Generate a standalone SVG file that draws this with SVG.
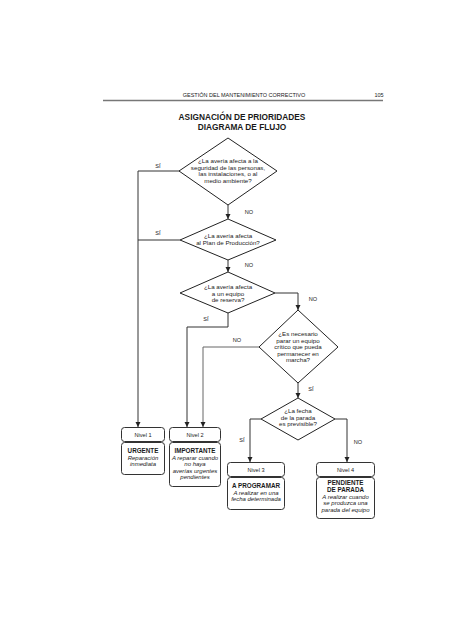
<svg xmlns="http://www.w3.org/2000/svg" width="474" height="632" viewBox="0 0 474 632">
<defs>
<marker id="ah" markerWidth="6" markerHeight="6" refX="5" refY="3" orient="auto" markerUnits="userSpaceOnUse">
<path d="M0,0.5 L5,3 L0,5.5 Z" fill="#222"/>
</marker>
<style>
text{font-family:"Liberation Sans",Arial,sans-serif;fill:#1a1a1a;text-anchor:middle}
.hdr{font-size:5.5px}
.ttl{font-size:8.3px;font-weight:bold}
.q{font-size:6.2px}
.lbl{font-size:5.6px}
.nv{font-size:5.6px}
.b{font-size:6.3px;font-weight:bold}
.i{font-size:6px;font-style:italic}
.shape{fill:#fff;stroke:#222;stroke-width:1}
.box{fill:#fff;stroke:#333;stroke-width:1}
.ln{fill:none;stroke:#333;stroke-width:1}
.ln2{fill:none;stroke:#666;stroke-width:1}
</style>
</defs>
<rect width="474" height="632" fill="#fff"/>
<g id="header">
<text class="hdr" x="244" y="97">GESTIÓN DEL MANTENIMIENTO CORRECTIVO</text>
<text class="hdr" x="379" y="97">105</text>
<line x1="103" y1="100.5" x2="383" y2="100.5" stroke="#777" stroke-width="1.5"/>
</g>
<g id="title">
<text class="ttl" x="242" y="120">ASIGNACIÓN DE PRIORIDADES</text>
<text class="ttl" x="242" y="129.5">DIAGRAMA DE FLUJO</text>
</g>
<g id="connectors">
<path class="ln" d="M228,205 V219" marker-end="url(#ah)"/>
<path class="ln" d="M228,260 V272" marker-end="url(#ah)"/>
<path class="ln" d="M275,293 H298 V310" marker-end="url(#ah)"/>
<path class="ln" d="M298,383 V398" marker-end="url(#ah)"/>
<path class="ln" d="M261,419 H250 V462" marker-end="url(#ah)"/>
<path class="ln" d="M335,419 H347 V462" marker-end="url(#ah)"/>
<path class="ln" d="M180,171 H138 V427" marker-end="url(#ah)"/>
<path class="ln" d="M180,240 H138"/>
<path class="ln" d="M228,313 V327 H187 V427" marker-end="url(#ah)"/>
<path class="ln2" d="M259,347 H203 V427" marker-end="url(#ah)"/>
<text class="lbl" x="158" y="168">SÍ</text>
<text class="lbl" x="158" y="235">SÍ</text>
<text class="lbl" x="249" y="214">NO</text>
<text class="lbl" x="249" y="267">NO</text>
<text class="lbl" x="313" y="301">NO</text>
<text class="lbl" x="206" y="321">SÍ</text>
<text class="lbl" x="237" y="342">NO</text>
<text class="lbl" x="311" y="391">SÍ</text>
<text class="lbl" x="242" y="442">SÍ</text>
<text class="lbl" x="358" y="444">NO</text>
</g>
<g id="d1">
<polygon class="shape" points="228,138 277,171 228,205 179,171"/>
<text class="q" x="228" y="163">¿La avería afecta a la</text>
<text class="q" x="228" y="169.5">seguridad de las personas,</text>
<text class="q" x="228" y="176">las instalaciones, o al</text>
<text class="q" x="228" y="182.5">medio ambiente?</text>
</g>
<g id="d2">
<polygon class="shape" points="228,219 276,240 228,260 180,240"/>
<text class="q" x="228" y="238">¿La avería afecta</text>
<text class="q" x="228" y="245">al Plan de Producción?</text>
</g>
<g id="d3">
<polygon class="shape" points="228,272 275,293 228,313 180,293"/>
<text class="q" x="228" y="289">¿La avería afecta</text>
<text class="q" x="228" y="295.5">a un equipo</text>
<text class="q" x="228" y="302">de reserva?</text>
</g>
<g id="d4">
<polygon class="shape" points="298,310 338,347 298,383 259,347"/>
<text class="q" x="298" y="336">¿Es necesario</text>
<text class="q" x="298" y="342.5">parar un equipo</text>
<text class="q" x="298" y="349">crítico que pueda</text>
<text class="q" x="298" y="355.5">permanecer en</text>
<text class="q" x="298" y="362">marcha?</text>
</g>
<g id="d5">
<polygon class="shape" points="298,398 335,419 298,440 261,419"/>
<text class="q" x="298" y="413">¿La fecha</text>
<text class="q" x="298" y="419.5">de la parada</text>
<text class="q" x="298" y="426">es previsible?</text>
</g>
<g id="nivel1">
<rect class="box" x="121.5" y="427.5" width="43" height="14" rx="3"/>
<rect class="box" x="121.5" y="442.5" width="43" height="32" rx="3"/>
<text class="nv" x="143" y="436.5">Nivel 1</text>
<text class="b" x="143" y="453">URGENTE</text>
<text class="i" x="143" y="459.5">Reparación</text>
<text class="i" x="143" y="466">inmediata</text>
</g>
<g id="nivel2">
<rect class="box" x="169.5" y="427.5" width="51" height="14" rx="3"/>
<rect class="box" x="169.5" y="442.5" width="51" height="44" rx="3"/>
<text class="nv" x="195" y="436.5">Nivel 2</text>
<text class="b" x="195" y="453">IMPORTANTE</text>
<text class="i" x="195" y="459.5">A reparar cuando</text>
<text class="i" x="195" y="466">no haya</text>
<text class="i" x="195" y="472.5">averías urgentes</text>
<text class="i" x="195" y="479">pendientes</text>
</g>
<g id="nivel3">
<rect class="box" x="227.5" y="462.5" width="57" height="14" rx="3"/>
<rect class="box" x="227.5" y="477.5" width="57" height="32" rx="3"/>
<text class="nv" x="256" y="471.5">Nivel 3</text>
<text class="b" x="256" y="488">A PROGRAMAR</text>
<text class="i" x="256" y="494.5">A realizar en una</text>
<text class="i" x="256" y="501">fecha determinada</text>
</g>
<g id="nivel4">
<rect class="box" x="316.5" y="462.5" width="58" height="14" rx="3"/>
<rect class="box" x="316.5" y="477.5" width="58" height="41" rx="3"/>
<text class="nv" x="345.5" y="471.5">Nivel 4</text>
<text class="b" x="345.5" y="485">PENDIENTE</text>
<text class="b" x="345.5" y="491.5">DE PARADA</text>
<text class="i" x="345.5" y="498.5">A realizar cuando</text>
<text class="i" x="345.5" y="505">se produzca una</text>
<text class="i" x="345.5" y="511.5">parada del equipo</text>
</g>
</svg>
